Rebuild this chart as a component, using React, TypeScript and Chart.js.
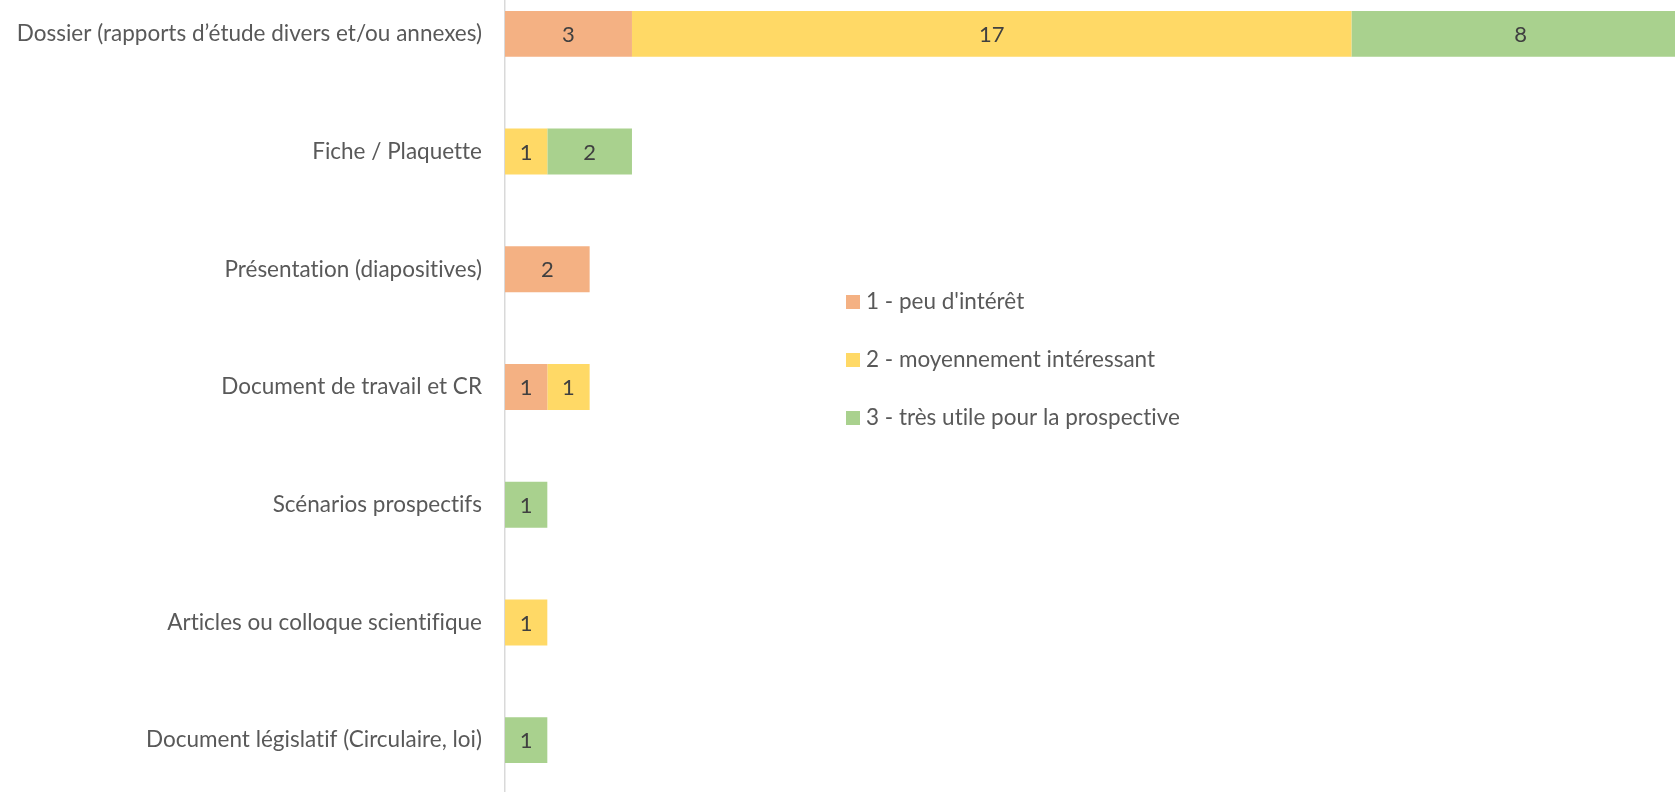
import React, { useEffect, useRef } from "react";
import { Chart, registerables } from "chart.js";

Chart.register(...registerables);

const categories = [
  "Dossier (rapports d’étude divers et/ou annexes)",
  "Fiche / Plaquette",
  "Présentation (diapositives)",
  "Document de travail et CR",
  "Scénarios prospectifs",
  "Articles ou colloque scientifique",
  "Document législatif (Circulaire, loi)",
];

const seriesNames = [
  "1 - peu d'intérêt",
  "2 - moyennement intéressant",
  "3 - très utile pour la prospective",
];

const peuInteret = [3, null, 2, 1, null, null, null];
const moyennement = [17, 1, null, 1, null, 1, null];
const tresUtile = [8, 2, null, null, 1, null, 1];

const colors = ["#F4B183", "#FFD966", "#A9D18E"];

const FONT = "Lato, 'Noto Sans', sans-serif";
const TEXT = "#595959";

const noLigatures = {
  id: "noLigatures",
  beforeDraw(chart: any) {
    const ctx = chart.ctx as any;
    if ("textRendering" in ctx) ctx.textRendering = "optimizeSpeed";
  },
};

const valueLabels = {
  id: "valueLabels",
  afterDatasetsDraw(chart: any) {
    const ctx = chart.ctx;
    ctx.save();
    ctx.font = `22px ${FONT}`;
    ctx.fillStyle = "#404040";
    ctx.textAlign = "center";
    ctx.textBaseline = "middle";
    chart.data.datasets.forEach((ds: any, i: number) => {
      const meta = chart.getDatasetMeta(i);
      meta.data.forEach((el: any, j: number) => {
        const v = ds.data[j];
        if (v === null || v === undefined) return;
        ctx.fillText(String(v), (el.x + el.base) / 2, el.y + 1);
      });
    });
    ctx.restore();
  },
};

const customLegend = {
  id: "customLegend",
  afterDraw(chart: any) {
    const ctx = chart.ctx;
    ctx.save();
    ctx.font = `22.5px ${FONT}`;
    ctx.textBaseline = "middle";
    ctx.textAlign = "left";
    chart.data.datasets.forEach((ds: any, i: number) => {
      const y = 327 + i * 58;
      ctx.fillStyle = ds.backgroundColor;
      ctx.fillRect(846, y - 7, 14, 14);
      ctx.fillStyle = TEXT;
      ctx.fillText(ds.label, 866, y);
    });
    ctx.restore();
  },
};

export default function App() {
  const ref = useRef<HTMLCanvasElement>(null);
  useEffect(() => {
    if (!ref.current) return;
    const chart = new Chart(ref.current, {
      type: "bar",
      data: {
        labels: categories,
        datasets: [peuInteret, moyennement, tresUtile].map((d, i) => ({
          label: seriesNames[i],
          data: d,
          backgroundColor: colors[i],
          borderWidth: 0,
          categoryPercentage: 1,
          barPercentage: 0.39,
        })),
      },
      options: {
        indexAxis: "y",
        animation: false,
        responsive: true,
        maintainAspectRatio: false,
        layout: { padding: 0 },
        plugins: { legend: { display: false }, tooltip: { enabled: false } },
        scales: {
          x: {
            stacked: true,
            display: false,
            min: 0,
            max: 28,
          },
          y: {
            stacked: true,
            afterFit(scale: any) {
              scale.width = 505;
              scale.paddingTop = 0;
              scale.paddingBottom = 0;
            },
            grid: { display: true, drawOnChartArea: false, drawTicks: false },
            border: { display: true, color: "#D9D9D9", width: 1.5 },
            ticks: {
              padding: 23,
              color: TEXT,
              font: { family: FONT, size: 22.5 },
            },
          },
        },
      },
      plugins: [noLigatures, valueLabels, customLegend],
    });
    return () => chart.destroy();
  }, []);
  return (
    <div style={{ position: "fixed", left: 0, top: 0, width: 1675, height: 792, overflow: "hidden", background: "#fff" }}>
      <div style={{ position: "absolute", left: 0, top: -25, width: 1690, height: 824 }}>
        <canvas ref={ref} />
      </div>
    </div>
  );
}
